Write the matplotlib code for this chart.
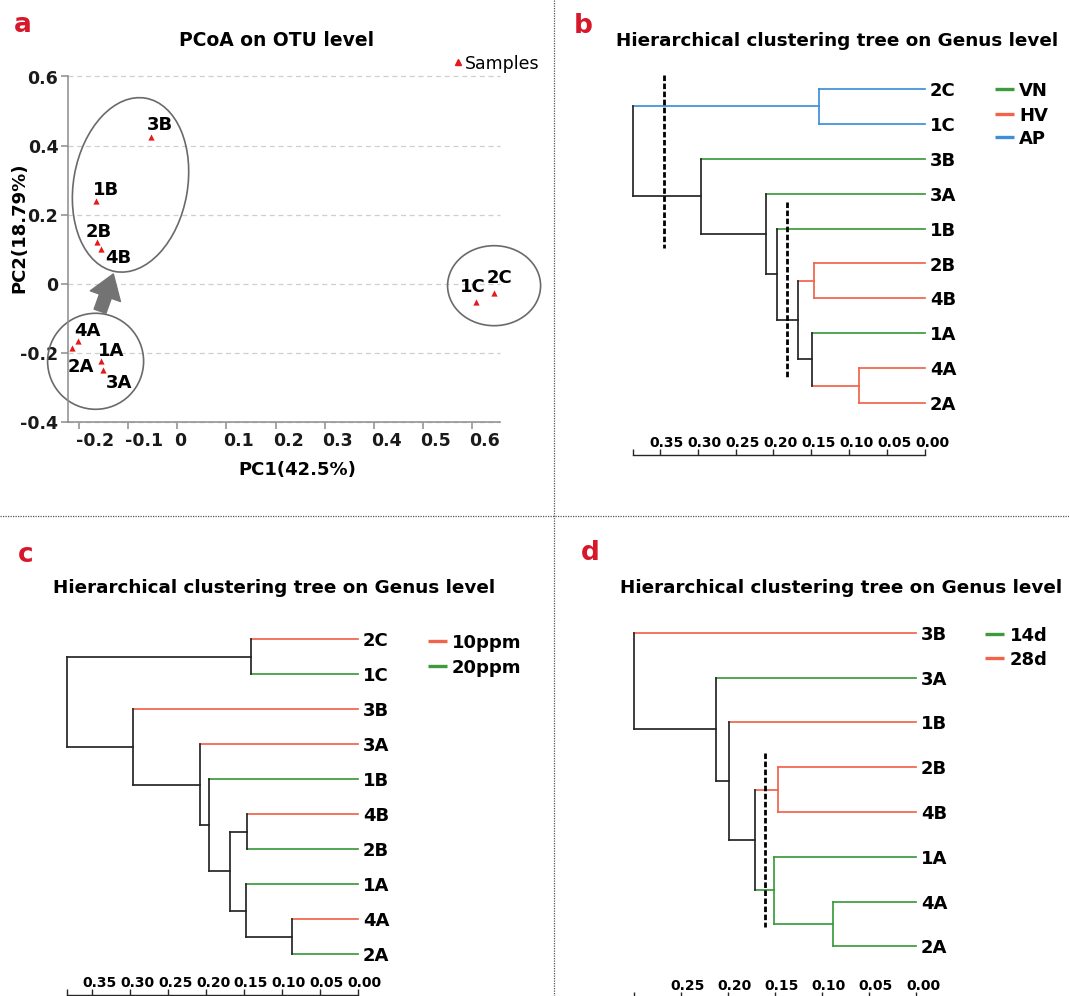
import matplotlib
matplotlib.use("Agg")
import matplotlib.pyplot as plt
from matplotlib import transforms
from matplotlib.lines import Line2D
from matplotlib.patches import Ellipse

plt.rcParams["font.family"] = "DejaVu Sans"
plt.rcParams["font.weight"] = "bold"

# ---- PCoA scores (panel a) ----
samples = ["3B", "1B", "2B", "4B", "1C", "2C", "4A", "2A", "1A", "3A"]
pc1 = [-0.053, -0.165, -0.163, -0.155, 0.607, 0.644, -0.202, -0.213, -0.155, -0.150]
pc2 = [0.424, 0.239, 0.121, 0.099, -0.052, -0.028, -0.166, -0.187, -0.224, -0.250]
pc1_ticks = [-0.2, -0.1, 0, 0.1, 0.2, 0.3, 0.4, 0.5, 0.6]
pc1_labels = ["-0.2", "-0.1", "0", "0.1", "0.2", "0.3", "0.4", "0.5", "0.6"]
pc2_ticks = [-0.4, -0.2, 0, 0.2, 0.4, 0.6]
pc2_labels = ["-0.4", "-0.2", "0", "0.2", "0.4", "0.6"]

# ---- clustering trees: (left, right, height) ----
tree_b = (("2C", "1C", 0.140),
          ("3B", ("3A", ("1B", (("2B", "4B", 0.146),
                                ("1A", ("4A", "2A", 0.0875), 0.149), 0.168),
                         0.195), 0.210), 0.296),
          0.385)
groups_b = {"2C": "AP", "1C": "AP", "3B": "VN", "3A": "VN", "1B": "VN",
            "2B": "HV", "4B": "HV", "1A": "VN", "4A": "HV", "2A": "HV"}

tree_c = (("2C", "1C", 0.1406),
          ("3B", ("3A", ("1B", (("4B", "2B", 0.1456),
                                ("1A", ("4A", "2A", 0.0868), 0.148), 0.1686),
                         0.1956), 0.2085), 0.296),
          0.384)
groups_c = {"2C": "10ppm", "1C": "20ppm", "3B": "10ppm", "3A": "10ppm", "1B": "20ppm",
            "4B": "10ppm", "2B": "20ppm", "1A": "20ppm", "4A": "10ppm", "2A": "20ppm"}

tree_d = ("3B",
          ("3A", ("1B", (("2B", "4B", 0.147),
                         ("1A", ("4A", "2A", 0.0886), 0.151), 0.171),
                  0.1986), 0.212),
          0.300)
groups_d = {"3B": "28d", "3A": "14d", "1B": "28d", "2B": "28d", "4B": "28d",
            "1A": "14d", "4A": "14d", "2A": "14d"}

ticks_bc = [0.35, 0.30, 0.25, 0.20, 0.15, 0.10, 0.05, 0.00]
ticks_d = [0.25, 0.20, 0.15, 0.10, 0.05, 0.00]

GREEN = "#3d9a3d"
RED = "#f26449"
BLUE = "#3f8fd8"
DARK = "#262626"
LETTER = "#d7182a"

W, H = 1069, 996
fig = plt.figure(figsize=(W / 100, H / 100), dpi=100)
px = transforms.Affine2D().scale(1, -1).translate(0, H)  # pixels, origin top-left


def box(x0, y0, x1, y1):
    return [x0 / W, 1 - y1 / H, (x1 - x0) / W, (y1 - y0) / H]


def ftext(x, y, s, **kw):
    kw.setdefault("fontsize", 13)
    fig.text(x, y, s, transform=px, **kw)


def legend_rows(x_line, x_text, ys, names, colors):
    for y, name, c in zip(ys, names, colors):
        fig.add_artist(Line2D([x_line, x_line + 19], [y, y], transform=px,
                              color=c, lw=2.4, solid_capstyle="butt"))
        ftext(x_text, y, name, va="center_baseline")


# ---------------- panel a ----------------
ax = fig.add_axes(box(68.3, 76.5, 499.5, 421.7))
ax.set_xlim(-0.2215, 0.655)
ax.set_ylim(-0.4, 0.6)
ax.set_facecolor("none")
ax.grid(axis="y", color="#cfcfcf", lw=0.9, ls=(0, (4, 3)))
for gl in ax.get_ygridlines():
    gl.set_clip_on(False)
ax.set_axisbelow(True)
for s in ["top", "right"]:
    ax.spines[s].set_visible(False)
for s in ["left", "bottom"]:
    ax.spines[s].set_color("#8c8c8c")
    ax.spines[s].set_linewidth(1.1)
ax.set_xticks(pc1_ticks, pc1_labels)
ax.set_yticks(pc2_ticks, pc2_labels)
for gl in ax.get_ygridlines():
    gl.set_clip_on(False)
ax.tick_params(color="#8c8c8c", length=4.7, width=1.1, labelsize=12.5,
               pad=2.5, labelcolor="#1a1a1a")
shift = transforms.ScaledTranslation(-3 / 100, 0, fig.dpi_scale_trans)
for lbl in ax.get_xticklabels():
    lbl.set_horizontalalignment("left")
    lbl.set_transform(lbl.get_transform() + shift)

ax.scatter(pc1, pc2, marker="^", s=20, color="#e3191c", linewidths=0, zorder=3)

label_offset = {"3B": (9, 14), "1B": (10, 13), "2B": (2, 12), "4B": (17, -7),
                "1C": (-3, 17), "2C": (5, 17), "4A": (9, 12), "2A": (8, -17),
                "1A": (10, 12), "3A": (16, -11)}
for name, x, y in zip(samples, pc1, pc2):
    ax.annotate(name, (x, y), xytext=label_offset[name], textcoords="offset pixels",
                ha="center", va="center_baseline", fontsize=13, zorder=4)

# group outlines: centre in data units, size in pixels
outlines = [(-0.095, 0.286, 114, 176, -10),
            (-0.166, -0.225, 96, 96, 0),
            (0.644, -0.006, 93, 80, 0)]
for cx, cy, w, h, a in outlines:
    ax.add_artist(Ellipse((0, 0), w, h, angle=a, fill=False, ec="#6a6a6a", lw=1.2,
                          transform=transforms.ScaledTranslation(cx, cy, ax.transData),
                          clip_on=False))

ax.annotate("", xy=(-0.130, 0.028), xytext=(-0.157, -0.080),
            arrowprops=dict(arrowstyle="simple,head_width=1.15,head_length=0.85,tail_width=0.45",
                            mutation_scale=20, color="#737373", shrinkA=0, shrinkB=0),
            annotation_clip=False)

fig.add_artist(Line2D([458.3], [61.7], transform=px, marker="^", ms=4.5,
                      color="#e3191c", ls="none"))
ftext(465, 61.7, "Samples", fontsize=12.5, fontweight="normal", va="center_baseline")
ftext(276.3, 46, "PCoA on OTU level", fontsize=13.5, ha="center", va="baseline")
ftext(297.5, 475, "PC1(42.5%)", ha="center", va="baseline")
ftext(19, 228, "PC2(18.79%)", rotation=90, ha="center", va="center")


# ---------------- dendrograms ----------------
def leaves_of(node):
    if isinstance(node, str):
        return [node]
    return leaves_of(node[0]) + leaves_of(node[1])


def tree_panel(tree, groups, colors, ticks, cuts, x0, x1, leaf0, step, top, bottom):
    root = tree[2]
    ax = fig.add_axes(box(x0, top, x1, bottom))
    ax.set_facecolor("none")
    ax.set_xlim(root, 0)
    ybot = (bottom - leaf0) / step
    ax.set_ylim(ybot, (top - leaf0) / step)

    order = leaves_of(tree)
    ypos = {n: i for i, n in enumerate(order)}
    line = dict(lw=1.25, solid_capstyle="projecting", clip_on=False)

    def walk(node):
        if isinstance(node, str):
            return ypos[node], 0.0, groups[node]
        left, right, h = node
        yl, hl, gl = walk(left)
        yr, hr, gr = walk(right)
        g = gl if gl == gr else None
        ax.plot([hl, h], [yl, yl], color=colors.get(gl, DARK), **line)
        ax.plot([hr, h], [yr, yr], color=colors.get(gr, DARK), **line)
        ax.plot([h, h], [yl, yr], color=colors.get(g, DARK), **line)
        return (yl + yr) / 2, h, g

    walk(tree)

    lab = transforms.offset_copy(ax.transData, fig=fig, x=5, y=0, units="dots")
    for n in order:
        ax.text(0, ypos[n], n, transform=lab, ha="left", va="center_baseline",
                fontsize=13, clip_on=False)

    for h, y0, y1 in cuts:
        ax.plot([h, h], [y0, y1], color="black", lw=2, ls=(0, (2, 0.9)), clip_on=False)

    for s in ["top", "right", "left"]:
        ax.spines[s].set_visible(False)
    ax.spines["bottom"].set_bounds(0, root)
    ax.spines["bottom"].set_color(DARK)
    ax.spines["bottom"].set_linewidth(1)
    ax.set_yticks([])
    ax.set_xticks([root] + ticks)
    ax.tick_params(axis="x", direction="in", length=4, width=1, color=DARK,
                   labelbottom=False)
    tl = transforms.offset_copy(ax.transData, fig=fig, x=7, y=13.3, units="dots")
    for v in ticks:
        ax.text(v, ybot, f"{v:.2f}", transform=tl, ha="center", va="center_baseline",
                fontsize=10, clip_on=False)
    return ax


# panel b
tree_panel(tree_b, groups_b, {"VN": GREEN, "HV": RED, "AP": BLUE}, ticks_bc,
           [(0.345, -0.40, 4.56), (0.182, 3.23, 8.24)],
           633.3, 925, 89, 34.9, 60, 455)
ftext(837, 45.7, "Hierarchical clustering tree on Genus level", fontsize=13.2,
      ha="center", va="baseline")
legend_rows(994.8, 1019, [89.3, 114.3, 137.3], ["VN", "HV", "AP"], [GREEN, RED, BLUE])

# panel c
tree_panel(tree_c, groups_c, {"10ppm": RED, "20ppm": GREEN}, ticks_bc, [],
           66.7, 357.7, 639.3, 35.0, 610, 995)
ftext(273.7, 593.3, "Hierarchical clustering tree on Genus level", fontsize=13.2,
      ha="center", va="baseline")
legend_rows(427.5, 451.9, [641, 665.7], ["10ppm", "20ppm"], [RED, GREEN])

# panel d
tree_panel(tree_d, groups_d, {"14d": GREEN, "28d": RED}, ticks_d,
           [(0.160, 2.69, 6.56)],
           633.5, 916, 632.7, 44.8, 600, 997.5)
ftext(841, 593.3, "Hierarchical clustering tree on Genus level", fontsize=13.2,
      ha="center", va="baseline")
legend_rows(985.3, 1010, [634, 658.3], ["14d", "28d"], [GREEN, RED])

# panel letters
for x, y, s in [(22.6, 31.7, "a"), (582.8, 33.3, "b"), (26, 561.7, "c"), (590, 560, "d")]:
    ftext(x, y, s, fontsize=19, color=LETTER, ha="center", va="baseline")

# panel dividers
fig.add_artist(Line2D([553.5, 553.5], [0, H], transform=px, color="#555555",
                      lw=0.9, ls=(0, (1, 1))))
fig.add_artist(Line2D([0, W], [515.7, 515.7], transform=px, color="#555555",
                      lw=0.9, ls=(0, (1, 1))))

fig.savefig("out.png", dpi=100, facecolor="white")
